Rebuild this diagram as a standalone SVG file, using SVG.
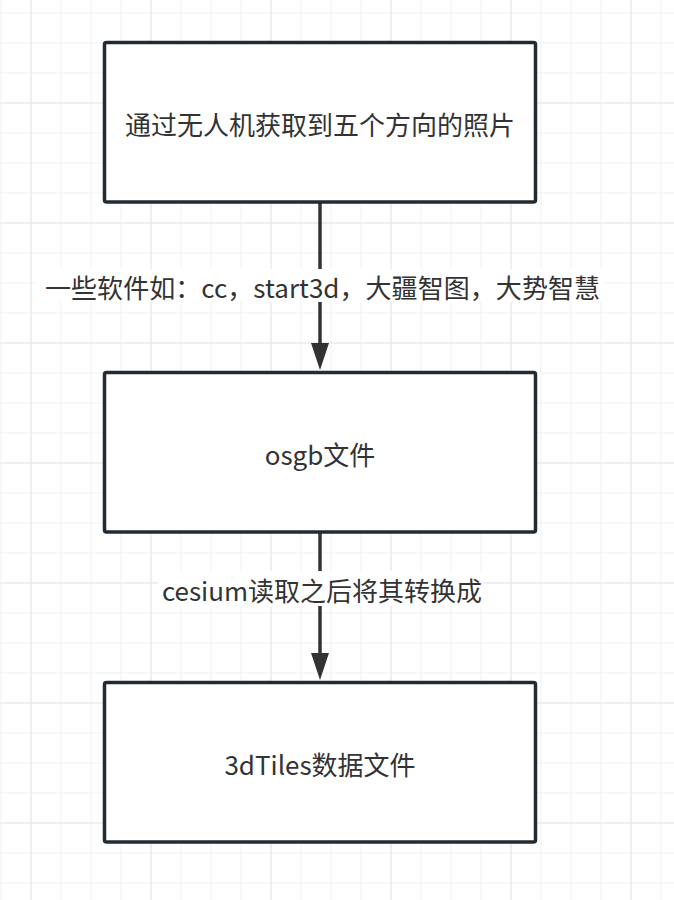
<svg xmlns="http://www.w3.org/2000/svg" width="674" height="900" viewBox="0 0 674 900">
<style>
.box{fill:#ffffff;stroke:#222a33;stroke-width:3.5}
.t{font-family:"Noto Sans CJK SC","Noto Sans",sans-serif;font-size:26px;fill:#333333;text-anchor:middle;dominant-baseline:central}
.edge{stroke:#333333;stroke-width:3.5;fill:none}
.lblbg{fill:#ffffff}
</style>
<defs>
<pattern id="minor" patternUnits="userSpaceOnUse" x="0.5" y="12.5" width="30" height="30">
<path d="M0 0V30M0 0H30" stroke="#f0f0f0" stroke-width="2" fill="none"/>
</pattern>
<pattern id="major" patternUnits="userSpaceOnUse" x="30.5" y="102.5" width="120" height="120">
<path d="M0 0V120M0 0H120" stroke="#e6e6e6" stroke-width="2" fill="none"/>
</pattern>
<marker id="arr" markerUnits="userSpaceOnUse" markerWidth="20" markerHeight="28" refX="19" refY="10" orient="auto" viewBox="0 0 28 20">
<path d="M0 1 L28 10 L0 19 Z" fill="#333333"/>
</marker>
</defs>
<rect width="674" height="900" fill="#ffffff"/>
<rect width="674" height="900" fill="url(#minor)"/>
<rect width="674" height="900" fill="url(#major)"/>
<g id="connectors">
<g id="e1">
<line class="edge" x1="320" y1="203" x2="320" y2="350"/>
<path d="M311 343 L329 343 L320 370 Z" fill="#333333"/>
<rect class="lblbg" x="36" y="269" width="568" height="33"/>
<text class="t" x="322.5" y="286" textLength="555" lengthAdjust="spacing">一些软件如：cc，start3d，大疆智图，大势智慧</text>
</g>
<g id="e2">
<line class="edge" x1="320" y1="533" x2="320" y2="660"/>
<path d="M311 653 L329 653 L320 680 Z" fill="#333333"/>
<rect class="lblbg" x="158" y="571" width="326" height="35"/>
<text class="t" x="322" y="589">cesium读取之后将其转换成</text>
</g>
</g>
<g id="n1">
<rect class="box" x="104.5" y="42.5" width="431" height="159.5" rx="2"/>
<text class="t" x="320" y="123">通过无人机获取到五个方向的照片</text>
</g>
<g id="n2">
<rect class="box" x="104.5" y="372.5" width="431" height="159.5" rx="2"/>
<text class="t" x="320" y="453">osgb文件</text>
</g>
<g id="n3">
<rect class="box" x="104.5" y="682.5" width="431" height="159.5" rx="2"/>
<text class="t" x="320" y="763">3dTiles数据文件</text>
</g>
</svg>
